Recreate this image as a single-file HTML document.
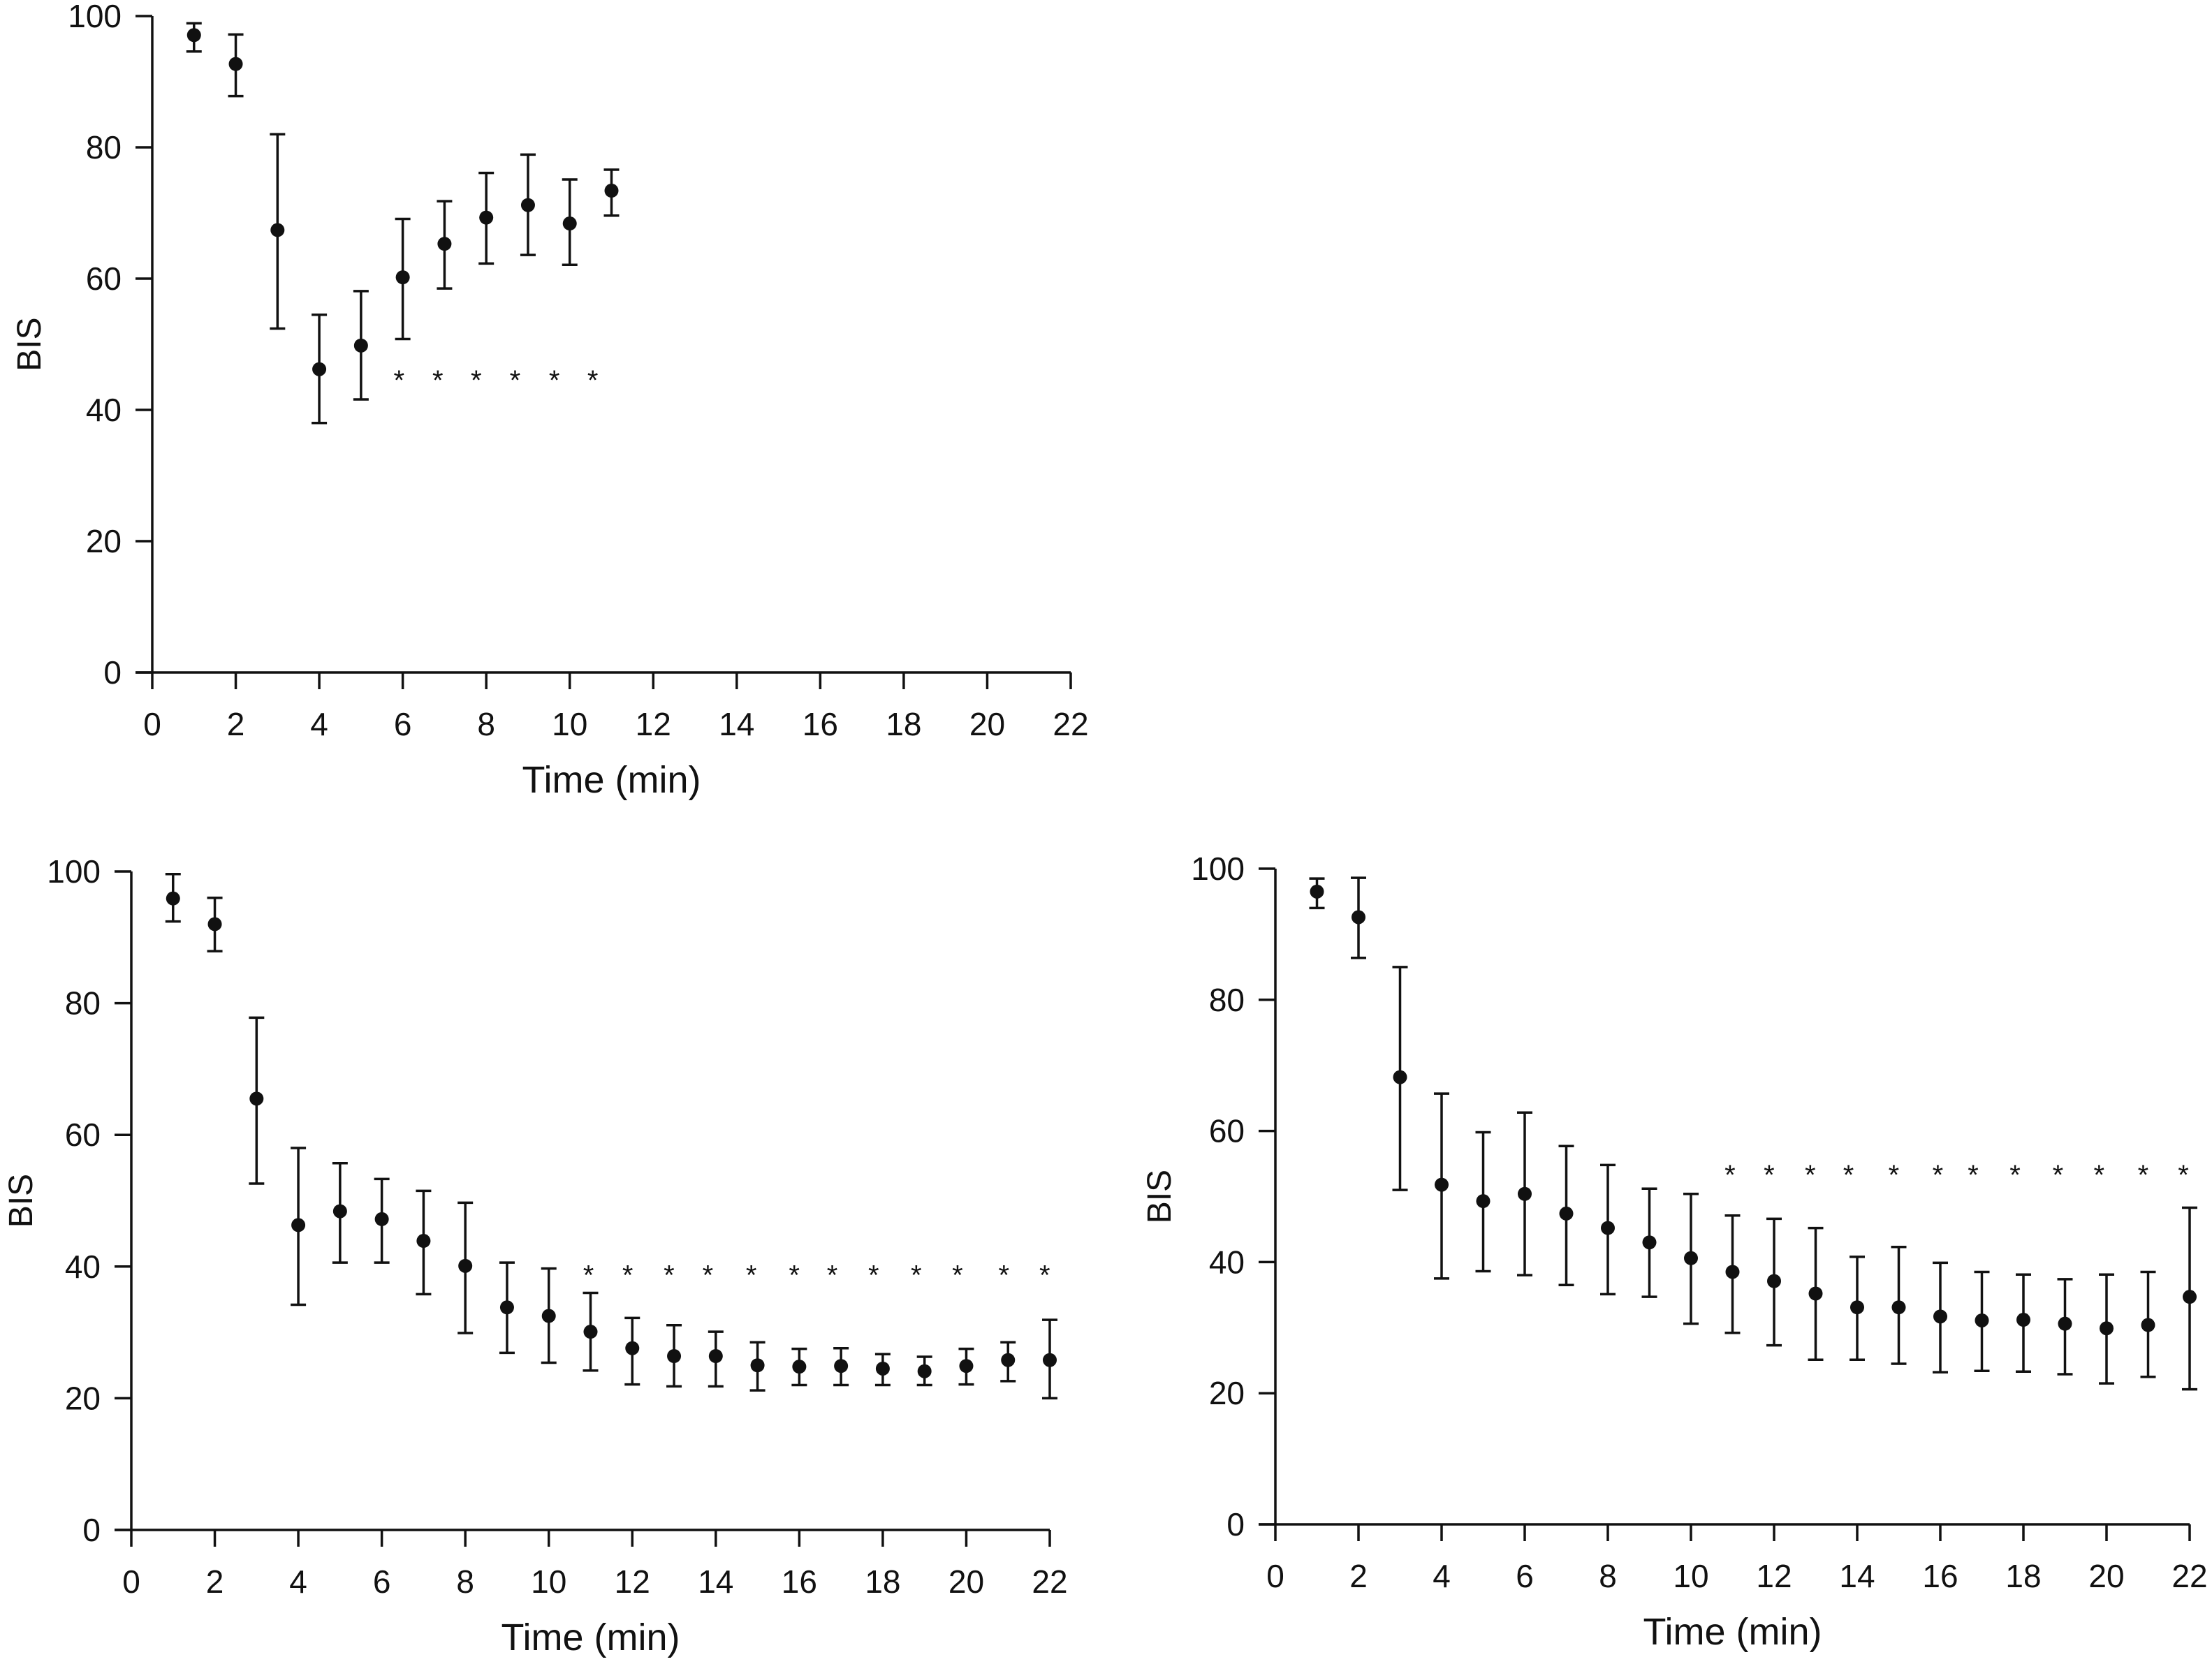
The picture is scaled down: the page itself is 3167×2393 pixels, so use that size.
<!DOCTYPE html>
<html><head><meta charset="utf-8"><style>
html,body{margin:0;padding:0;background:#fff}
svg{display:block}
text{font-family:"Liberation Sans",Arial,sans-serif;fill:#111}
</style></head><body>
<svg id="chart" width="3167" height="2393" viewBox="0 0 3167 2393" xmlns="http://www.w3.org/2000/svg"></svg>
<script>
const xTicks=[0,2,4,6,8,10,12,14,16,18,20,22];
const yTicks=[0,20,40,60,80,100];
// Panel A
const aTime=[1,2,3,4,5,6,7,8,9,10,11];
const aMean=[97.1,92.7,67.4,46.2,49.8,60.2,65.3,69.3,71.2,68.4,73.4];
const aLow=[94.6,87.8,52.4,38.0,41.6,50.8,58.5,62.3,63.6,62.1,69.6];
const aHigh=[98.9,97.2,82.0,54.5,58.1,69.1,71.8,76.1,78.9,75.1,76.6];
const aStarX=[5.91,6.84,7.76,8.69,9.63,10.55];
const aStarY=45;
// Panel B
const bTime=[1,2,3,4,5,6,7,8,9,10,11,12,13,14,15,16,17,18,19,20,21,22];
const bMean=[95.9,92.0,65.5,46.3,48.4,47.2,43.9,40.1,33.8,32.5,30.1,27.6,26.4,26.4,25.0,24.8,24.9,24.5,24.1,24.9,25.8,25.8];
const bLow=[92.4,87.9,52.6,34.2,40.6,40.6,35.8,29.9,26.9,25.4,24.2,22.1,21.8,21.8,21.2,22.0,22.0,22.0,22.0,22.1,22.6,20.0];
const bHigh=[99.6,96.0,77.8,58.0,55.7,53.3,51.5,49.7,40.6,39.7,36.0,32.2,31.1,30.1,28.5,27.5,27.6,26.7,26.3,27.5,28.5,31.9];
const bStarX=[10.95,11.89,12.88,13.81,14.85,15.88,16.79,17.78,18.8,19.79,20.9,21.88];
const bStarY=39.2;
// Panel C
const cTime=[1,2,3,4,5,6,7,8,9,10,11,12,13,14,15,16,17,18,19,20,21,22];
const cMean=[96.5,92.6,68.2,51.8,49.3,50.4,47.4,45.2,43.0,40.6,38.5,37.1,35.2,33.1,33.1,31.7,31.1,31.2,30.6,29.9,30.4,34.7];
const cLow=[94.0,86.4,51.0,37.5,38.6,38.0,36.5,35.1,34.7,30.6,29.2,27.3,25.1,25.1,24.5,23.2,23.4,23.3,22.9,21.5,22.5,20.6];
const cHigh=[98.5,98.6,85.0,65.7,59.8,62.8,57.7,54.8,51.2,50.4,47.1,46.6,45.2,40.8,42.3,39.9,38.5,38.1,37.4,38.1,38.5,48.3];
const cStarX=[10.94,11.88,12.87,13.79,14.88,15.94,16.79,17.8,18.83,19.82,20.88,21.85];
const cStarY=53.8;

const NS="http://www.w3.org/2000/svg";
const svg=document.getElementById('chart');
function mk(tag,attrs,parent){const e=document.createElementNS(NS,tag);for(const k in attrs)e.setAttribute(k,attrs[k]);parent.appendChild(e);return e;}

function panel(id,box,time,mean,low,high,starX,starY){
  const g=mk('g',{},svg);
  
  
  const sx=v=>box.x0+(box.x1-box.x0)*v/22;
  const sy=v=>box.y0+(box.y1-box.y0)*v/100;
  const ax=mk('g',{stroke:'#111','stroke-width':3.5,fill:'none'},g);
  
  
  mk('line',{x1:box.x0,y1:sy(100),x2:box.x0,y2:sy(0)},ax);
  mk('line',{x1:box.x0-24,y1:sy(0),x2:box.x1,y2:sy(0)},ax);
  yTicks.forEach(t=>{
    mk('line',{x1:box.x0-24,y1:sy(t),x2:box.x0,y2:sy(t)},ax);
    const tx=mk('text',{x:box.x0-44,y:sy(t)+16,'text-anchor':'end','font-size':46},g);
    
    
    tx.textContent=t;
  });
  xTicks.forEach(t=>{
    mk('line',{x1:sx(t),y1:sy(0),x2:sx(t),y2:sy(0)+24},ax);
    const tx=mk('text',{x:sx(t),y:sy(0)+90,'text-anchor':'middle','font-size':46},g);
    
    
    tx.textContent=t;
  });
  const yl=mk('text',{x:0,y:0,'text-anchor':'middle','font-size':48,transform:`translate(${box.ylx},${(sy(0)+sy(100))/2}) rotate(-90)`},g);
  
  
  yl.textContent='BIS';
  const xl=mk('text',{x:(box.x0+box.x1)/2,y:sy(0)+172,'text-anchor':'middle','font-size':54},g);
  
  
  xl.textContent='Time (min)';
  time.forEach((t,i)=>{
    const eg=mk('g',{stroke:'#111','stroke-width':3.5},g);
    
    
    const x=sx(t);
    mk('line',{x1:x,y1:sy(low[i]),x2:x,y2:sy(high[i])},eg);
    mk('line',{x1:x-11,y1:sy(low[i]),x2:x+11,y2:sy(low[i])},eg);
    mk('line',{x1:x-11,y1:sy(high[i]),x2:x+11,y2:sy(high[i])},eg);
    const c=mk('circle',{cx:x,cy:sy(mean[i]),r:10,fill:'#111'},g);
    
    
  });
  starX.forEach(s=>{
    const st=mk('text',{x:sx(s),y:sy(starY)+18,'text-anchor':'middle','font-size':40},g);
    
    
    st.textContent='*';
  });
}
panel('panel-a',{x0:218,x1:1533,y0:963,y1:23,ylx:58},aTime,aMean,aLow,aHigh,aStarX,aStarY);
panel('panel-b',{x0:188,x1:1503,y0:2191,y1:1248,ylx:46},bTime,bMean,bLow,bHigh,bStarX,bStarY);
panel('panel-c',{x0:1826,x1:3135,y0:2183,y1:1244,ylx:1676},cTime,cMean,cLow,cHigh,cStarX,cStarY);
</script>
</body></html>
